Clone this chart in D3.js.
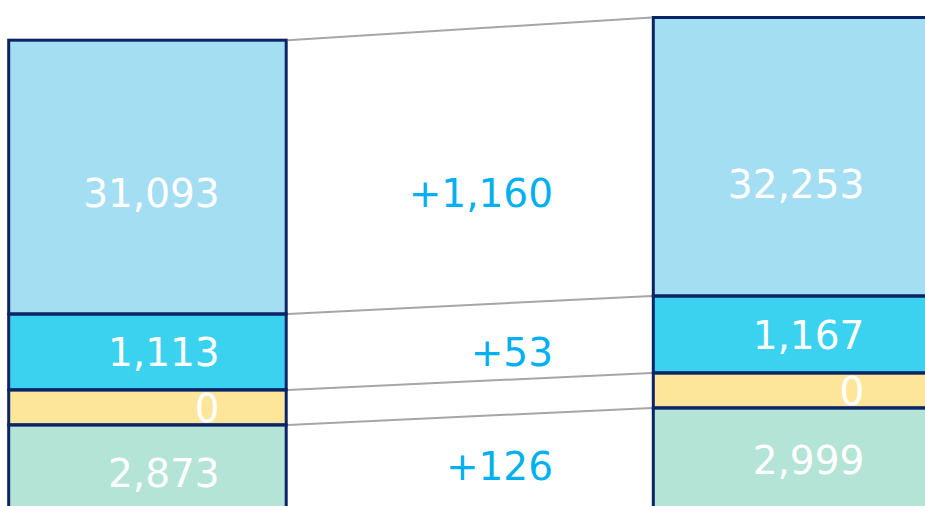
<!DOCTYPE html>
<html>
<head>
<meta charset="utf-8">
<script src="https://cdn.jsdelivr.net/npm/d3@7"></script>
<style>
  html, body { margin: 0; padding: 0; background: #ffffff; }
  svg { display: block; }
  text { font-family: "DejaVu Sans", Verdana, sans-serif; font-weight: 400; }
</style>
</head>
<body>
<svg id="chart" width="925" height="506"></svg>
<script>
// ---- data ----
const bars = ["Before", "After"];
const segments = ["Segment 1", "Segment 2", "Segment 3", "Segment 4"];
const beforeValues = [31093, 1113, 0, 2873];
const afterValues = [32253, 1167, 0, 2999];
const deltaValues = [1160, 53, null, 126];
const segmentColors = ["#a4def3", "#3bd2f0", "#fde59a", "#b3e4d6"];

// ---- layout ----
const W = 925, H = 506;
const barWidth = 277.5;
const barX = d3.scalePoint().domain(bars).range([8.7, 653.3]);
const labelTop = 71, labelBottom = 520, deltaBottom = 506;
const fontSize = 39;
const border = "#0b2466";

const svg = d3.select("#chart");

const allSeries = [beforeValues, afterValues];
const maxVal = d3.max(allSeries.flat());
// display height of a segment (minimum height for small values)
const hScale = d3.scalePow().exponent(0.53).domain([0, maxVal]).range([35, 278.5]);
// anchor: boundary below the first segment, positioned by the sum of the segments below it
const belowSums = allSeries.map(v => d3.sum(v.slice(1)));
const anchorY = d3.scaleLinear().domain(d3.extent(belowSums)).range([314, 296]);

const layout = bars.map((b, i) => {
  const vals = allSeries[i];
  const hs = vals.map(v => hScale(v));
  const yAnchor = anchorY(belowSums[i]);
  let y = yAnchor - hs[0];
  return vals.map((v, j) => {
    const seg = { bar: b, seg: segments[j], value: v, x: barX(b), y0: y, y1: y + hs[j], color: segmentColors[j] };
    y += hs[j];
    return seg;
  });
});

const flat = layout.flat();

// fills
svg.append("g").selectAll("rect").data(flat).join("rect")
  .attr("x", d => d.x).attr("y", d => d.y0)
  .attr("width", barWidth).attr("height", d => d.y1 - d.y0)
  .attr("fill", d => d.color);

// connectors
const L = layout[0], R = layout[1];
const connectors = L.map((s, j) => ({ x1: s.x + barWidth + 1.5, y1: s.y0, x2: R[j].x - 1.5, y2: R[j].y0 }));
svg.append("g").selectAll("line").data(connectors).join("line")
  .attr("x1", d => d.x1).attr("y1", d => d.y1)
  .attr("x2", d => d.x2).attr("y2", d => d.y2)
  .attr("stroke", "#a6a6a6").attr("stroke-width", 2);

// borders
svg.append("g").selectAll("rect").data(flat).join("rect")
  .attr("x", d => d.x).attr("y", d => d.y0)
  .attr("width", barWidth).attr("height", d => d.y1 - d.y0)
  .attr("fill", "none").attr("stroke", border).attr("stroke-width", 3);

// value labels
const fmt = d3.format(",");
svg.append("g").selectAll("text").data(flat).join("text")
  .attr("x", d => d.x + 211)
  .attr("y", d => (Math.max(d.y0, labelTop) + Math.min(d.y1, labelBottom)) / 2 + 0.364 * fontSize)
  .attr("text-anchor", "end")
  .attr("font-size", fontSize)
  .attr("fill", "#ffffff")
  .text(d => fmt(d.value));

// delta labels
const deltas = L.map((s, j) => ({ v: deltaValues[j], s })).filter(d => d.v !== null);
svg.append("g").selectAll("text").data(deltas).join("text")
  .attr("x", 553)
  .attr("y", d => (Math.max(d.s.y0, labelTop) + Math.min(d.s.y1, deltaBottom)) / 2 + 0.364 * fontSize)
  .attr("text-anchor", "end")
  .attr("font-size", fontSize)
  .attr("fill", "#00b0f0")
  .text(d => "+" + fmt(d.v));
</script>
</body>
</html>
